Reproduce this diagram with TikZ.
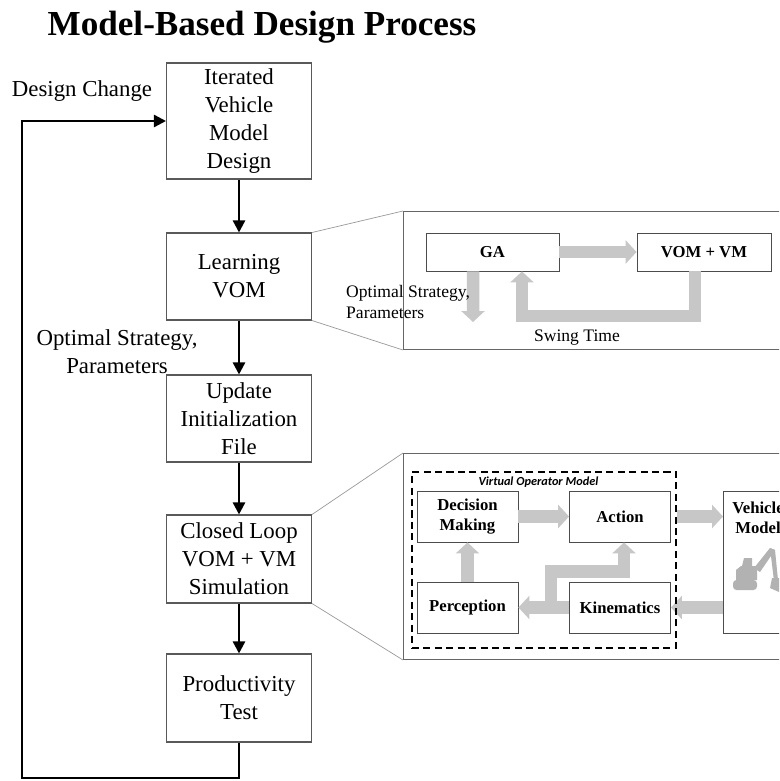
\documentclass[tikz,border=0pt]{standalone}
\usepackage{fontspec}
\setmainfont{Liberation Serif}
\newfontfamily\calfont{Carlito}
\usetikzlibrary{arrows.meta}

\begin{document}
\begin{tikzpicture}[x=0.02cm,y=-0.02cm,
    stepbox/.style={draw=black!65,line width=0.6pt,fill=white,minimum width=2.9cm,
      align=center,inner sep=1pt,font=\fontsize{13}{16}\selectfont},
    flow/.style={line width=1.4pt,-{Triangle[length=0.24cm,width=0.24cm]}},
    panel/.style={draw=black!60,line width=0.6pt,fill=white},
    zoomline/.style={draw=black!40,line width=0.4pt},
    block/.style={draw=black!70,line width=0.5pt,fill=white,align=center,inner sep=1pt,
      font=\fontsize{9.5}{11.5}\selectfont\bfseries},
    grayflow/.style={draw=black!22,line width=0.25cm,line join=miter,
      -{Triangle[length=0.22cm,width=0.46cm]}},
    note/.style={font=\fontsize{13}{16}\selectfont,align=center},
    smallnote/.style={font=\fontsize{10}{11.4}\selectfont,align=left}]

  \clip (0,0) rectangle (779,781);

  \node[font=\fontsize{20}{24}\selectfont\bfseries,anchor=base] (title) at (262,35)
    {Model-Based Design Process};

  % process steps
  \node[stepbox,minimum height=2.32cm] (design) at (239,121) {Iterated\\Vehicle\\Model\\Design};
  \node[stepbox,minimum height=1.74cm] (learn) at (239,276.5) {Learning\\VOM};
  \node[stepbox,minimum height=1.74cm] (update) at (239,418.5) {Update\\Initialization\\File};
  \node[stepbox,minimum height=1.76cm] (sim) at (239,559) {Closed Loop\\VOM + VM\\Simulation};
  \node[stepbox,minimum height=1.76cm] (prod) at (239,698) {Productivity\\Test};

  \draw[flow] (design) -- (learn);
  \draw[flow] (learn) -- (update);
  \draw[flow] (update) -- (sim);
  \draw[flow] (sim) -- (prod);

  % design change loop
  \coordinate (corner) at (22,778);
  \draw[flow] (prod.south) |- (corner) |- (design.west);

  \node[note] (change) at (82,91) {Design Change};
  \node[note] (strategy) at (117,352) {Optimal Strategy,\\Parameters};

  % learning detail
  \node[panel,minimum width=7.8cm,minimum height=2.76cm,anchor=north west] (learnpanel) at (403,211) {};
  \draw[zoomline] (learn.north east) -- (learnpanel.north west);
  \draw[zoomline] (learn.south east) -- (learnpanel.south west);

  \node[block,minimum width=2.66cm,minimum height=0.76cm] (ga) at (492.5,252) {GA};
  \node[block,minimum width=2.68cm,minimum height=0.76cm] (vomvm) at (704,252) {VOM + VM};

  \coordinate (strategyout) at (473,322);
  \draw[grayflow] (ga) -- (vomvm);
  \draw[grayflow] ([xshift=-0.39cm]ga.south) -- (strategyout);
  \draw[grayflow] ([xshift=-0.18cm]vomvm.south) |- ([xshift=0.59cm,yshift=-0.89cm]ga.south)
    -- ([xshift=0.59cm]ga.south);

  \node[smallnote,anchor=west] (strategytext) at (340,302) {Optimal Strategy,\\Parameters};
  \node[font=\fontsize{10}{12}\selectfont] (swing) at (577,338) {Swing Time};

  % simulation detail
  \node[panel,minimum width=7.8cm,minimum height=4.12cm,anchor=north west] (simpanel) at (403,453) {};
  \draw[zoomline] (sim.north east) -- (simpanel.north west);
  \draw[zoomline] (sim.south east) -- (simpanel.south west);

  \node[block,minimum width=2.02cm,minimum height=1.02cm] (dm) at (467.5,516.5) {Decision\\Making};
  \node[block,minimum width=2.02cm,minimum height=1.02cm] (action) at (620,516.5) {Action};
  \node[block,minimum width=2.02cm,minimum height=1.02cm] (percept) at (467.5,607.5) {Perception};
  \node[block,minimum width=2.02cm,minimum height=1.02cm] (kinem) at (620,607.5) {Kinematics};
  \node[block,minimum width=2.2cm,minimum height=2.84cm,anchor=west] (vehicle) at (723,562) {};
  \node[block,draw=none,fill=none] (vehlabel) at (758,518) {Vehicle\\Model};

  % excavator
  \begin{scope}[black!30]
    \fill[rounded corners=2] (733,580) rectangle (757,590);
    \fill (736,580) -- (736,570) -- (741,566) -- (757,566) -- (757,580) -- cycle;
    \fill (742,566) -- (744,558) -- (752,558) -- (752,566) -- cycle;
    \fill (754,568) -- (770,548) -- (775,550) -- (760,572) -- cycle;
    \fill (770,548) -- (775,550) -- (778,580) -- (774,581) -- cycle;
    \fill (772,578) -- (779,578) -- (779,592) -- (770,588) -- cycle;
  \end{scope}

  \draw[grayflow] (dm) -- (action);
  \draw[grayflow,shorten <=0.12cm] (action) -- (vehicle.west |- action.east);
  \draw[grayflow] (vehicle.west |- kinem.east) -- (kinem);
  \draw[grayflow] (percept) -- (dm);
  \draw[grayflow] (kinem) -- (percept);
  \draw[grayflow] ([xshift=-0.36cm]kinem.west) |- ([xshift=0.08cm,yshift=-0.58cm]action.south)
    -- ([xshift=0.08cm]action.south);

  \node[draw,dash pattern=on 4pt off 2.5pt,line width=1.1pt,minimum width=5.28cm,
    minimum height=3.52cm] (vom) at (544,560) {};
  \node[font=\calfont\fontsize{7}{8}\selectfont\bfseries\itshape] (vomtitle) at (538.5,482)
    {Virtual Operator Model};
\end{tikzpicture}
\end{document}
